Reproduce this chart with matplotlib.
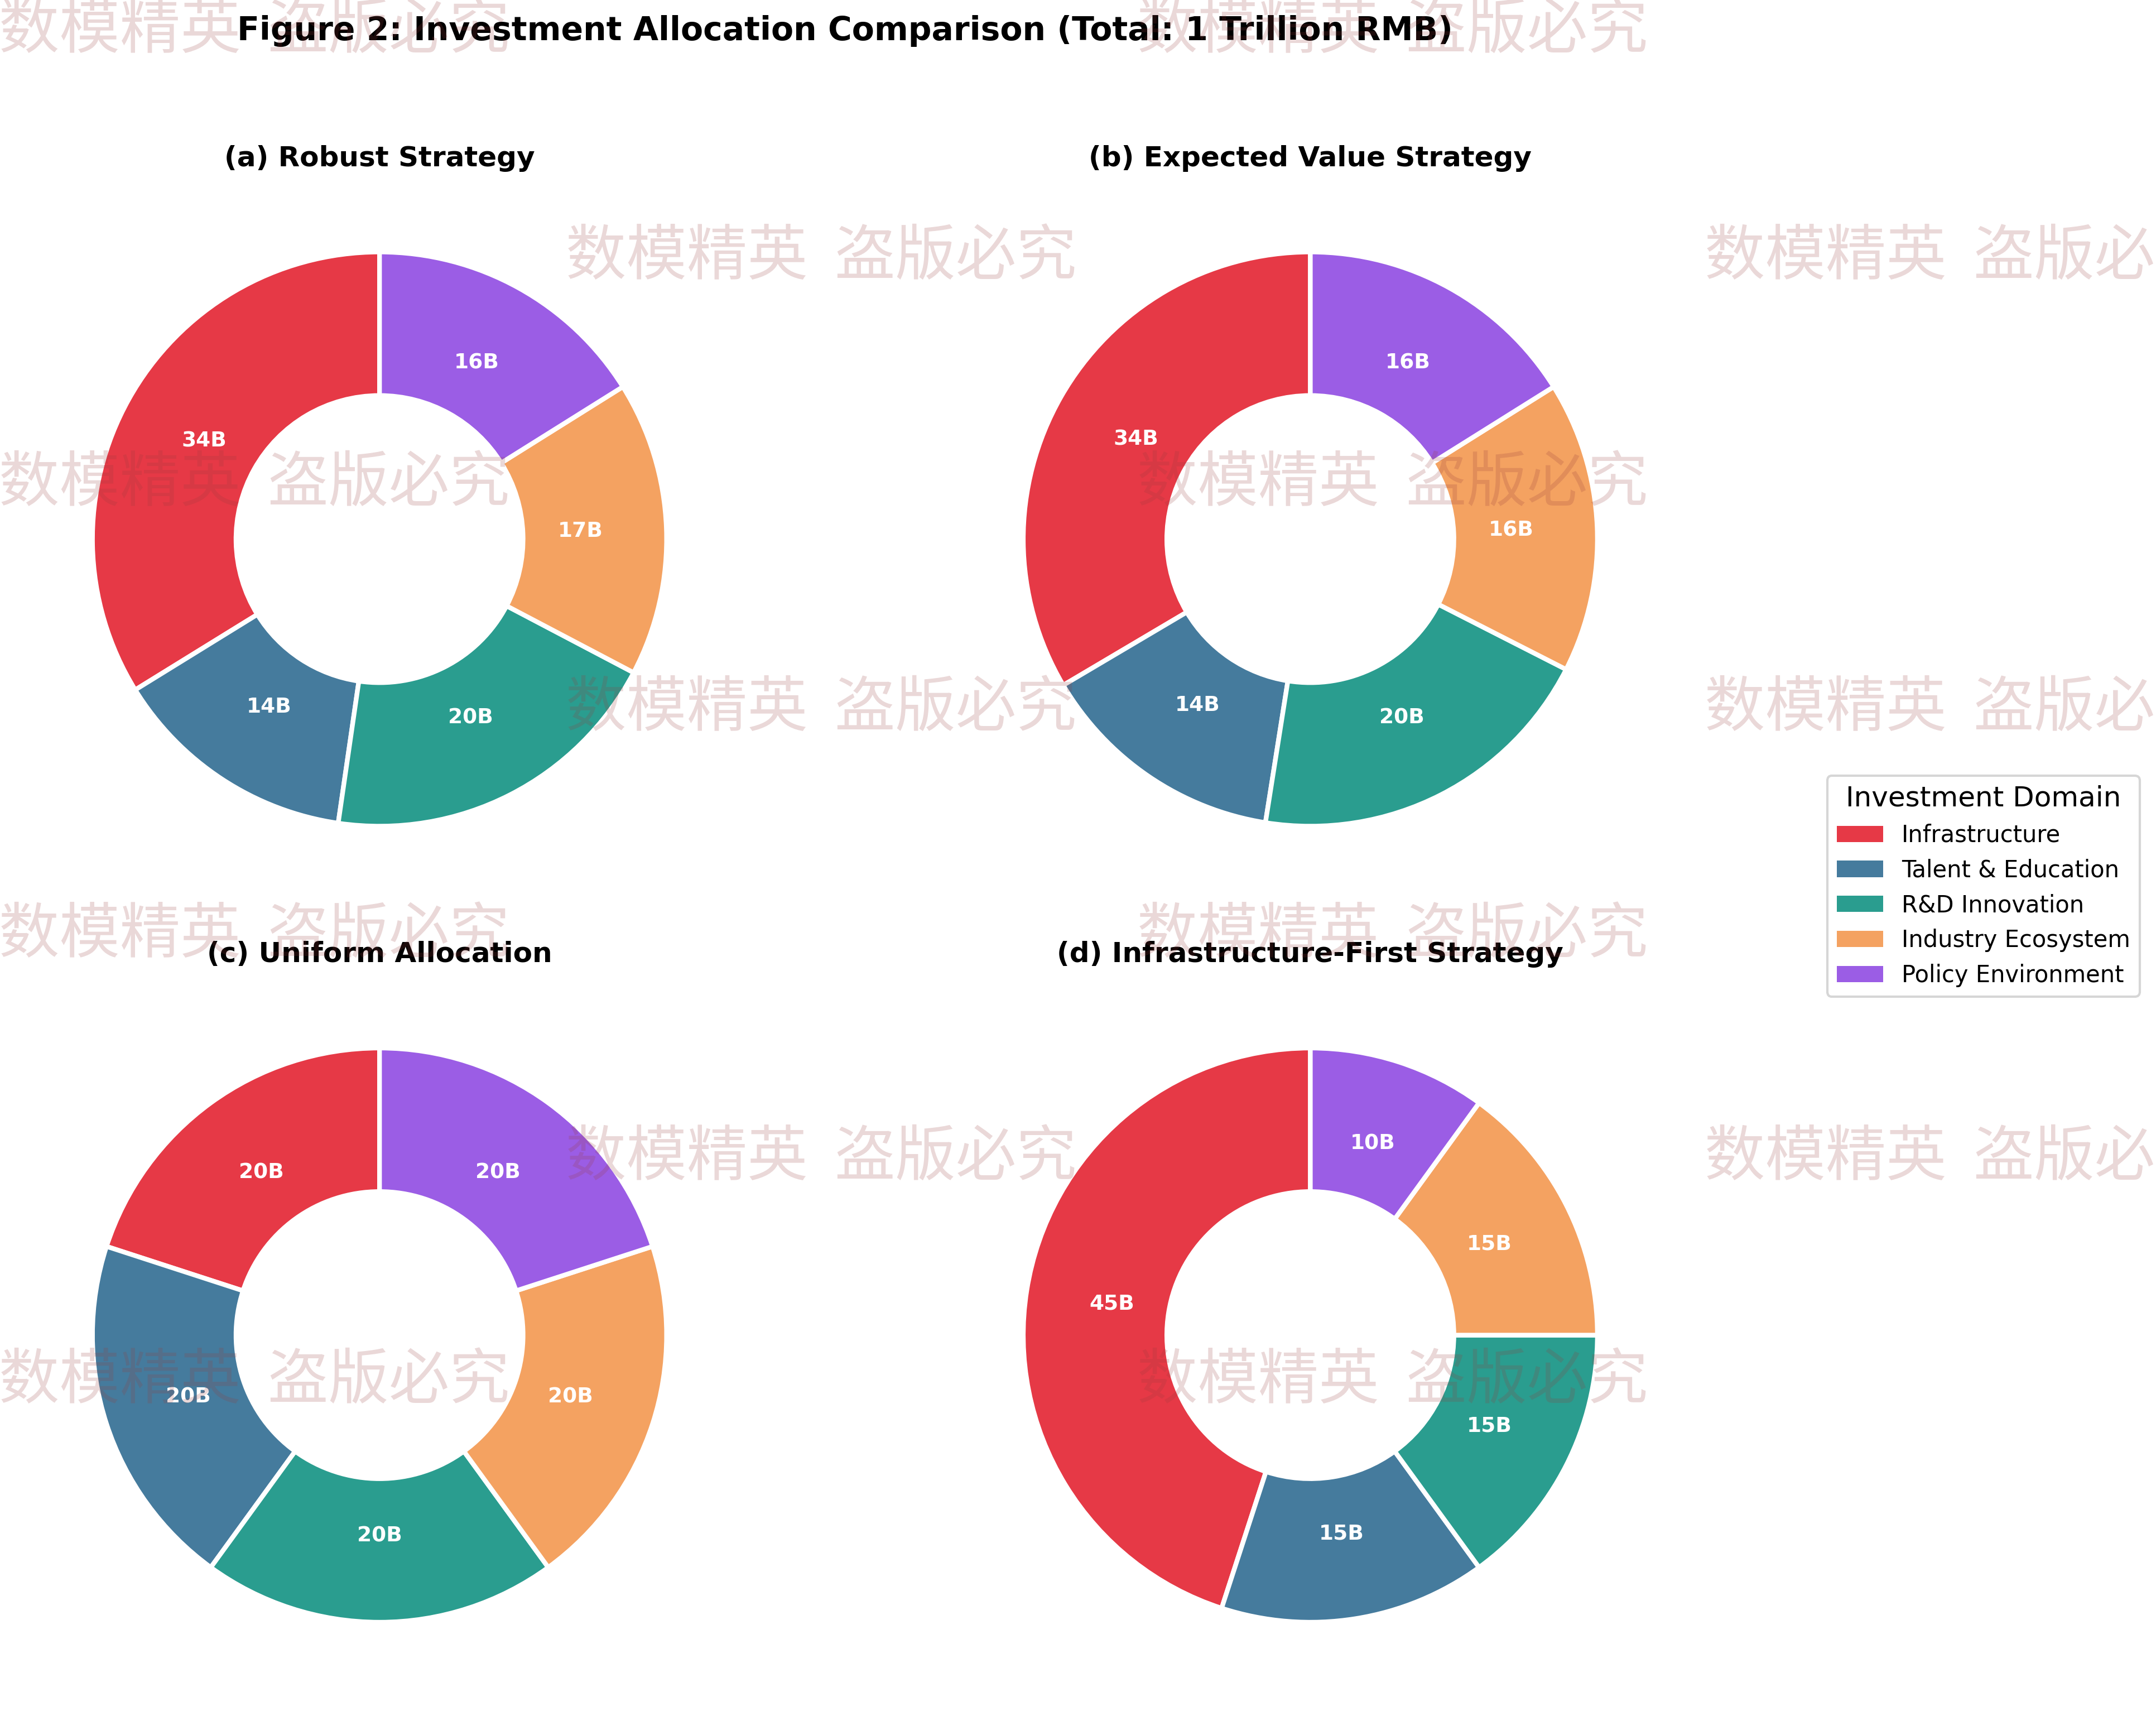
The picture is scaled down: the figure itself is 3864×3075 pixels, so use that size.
import matplotlib
matplotlib.use("Agg")
import matplotlib.pyplot as plt
from matplotlib.patches import Patch

plt.rcParams["font.family"] = ["DejaVu Sans"]

# data (billions)
domains = ["Infrastructure", "Talent & Education", "R&D Innovation",
           "Industry Ecosystem", "Policy Environment"]
colors = ["#E63946", "#457B9D", "#2A9D8F", "#F4A261", "#9B5DE5"]

titles = ["(a) Robust Strategy", "(b) Expected Value Strategy",
          "(c) Uniform Allocation", "(d) Infrastructure-First Strategy"]
robust = [33.8, 13.9, 19.6, 16.6, 16.1]
expected = [33.5, 14.0, 20.0, 16.4, 16.1]
uniform = [20, 20, 20, 20, 20]
infra_first = [45, 15, 15, 15, 10]
strategies = [robust, expected, uniform, infra_first]

watermark = "数模精英  盗版必究"

fig, axes = plt.subplots(2, 2, figsize=(12.88, 10.25), dpi=300)
fig.subplots_adjust(left=0.0096, right=0.7742, top=0.895, bottom=0.0128,
                    wspace=0.297, hspace=0.109)

for ax, vals, title in zip(axes.flat, strategies, titles):
    total = sum(vals)
    wedges, texts, autotexts = ax.pie(
        vals, colors=colors, startangle=90,
        autopct=lambda p, t=total: f"{p * t / 100:.0f}B",
        pctdistance=0.7,
        wedgeprops=dict(width=0.5, edgecolor="white", linewidth=2))
    for t in autotexts:
        t.set_color("white")
        t.set_fontweight("bold")
        t.set_fontsize(9)
    ax.set_title(title, fontsize=12, fontweight="bold")

fig.suptitle("Figure 2: Investment Allocation Comparison (Total: 1 Trillion RMB)",
             fontsize=14, fontweight="bold", x=0.392, y=0.982, va="center")

handles = [Patch(facecolor=c, label=d) for c, d in zip(colors, domains)]
fig.legend(handles=handles, title="Investment Domain", loc="center",
           bbox_to_anchor=(0.920, 0.4836), fontsize=10, title_fontsize=12)

# watermark grid
row_y = [0.982, 0.850, 0.718, 0.587, 0.455, 0.325, 0.195]
for i, y in enumerate(row_y):
    xs = [0.118, 0.646] if i % 2 == 0 else [0.381, 0.909]
    for x in xs:
        fig.text(x, y, watermark, fontsize=26, color="#963C3C", alpha=0.2,
                 ha="center", va="center", zorder=10,
                 family=["Noto Sans CJK SC", "DejaVu Sans"])

fig.savefig("out.png", dpi=300)
